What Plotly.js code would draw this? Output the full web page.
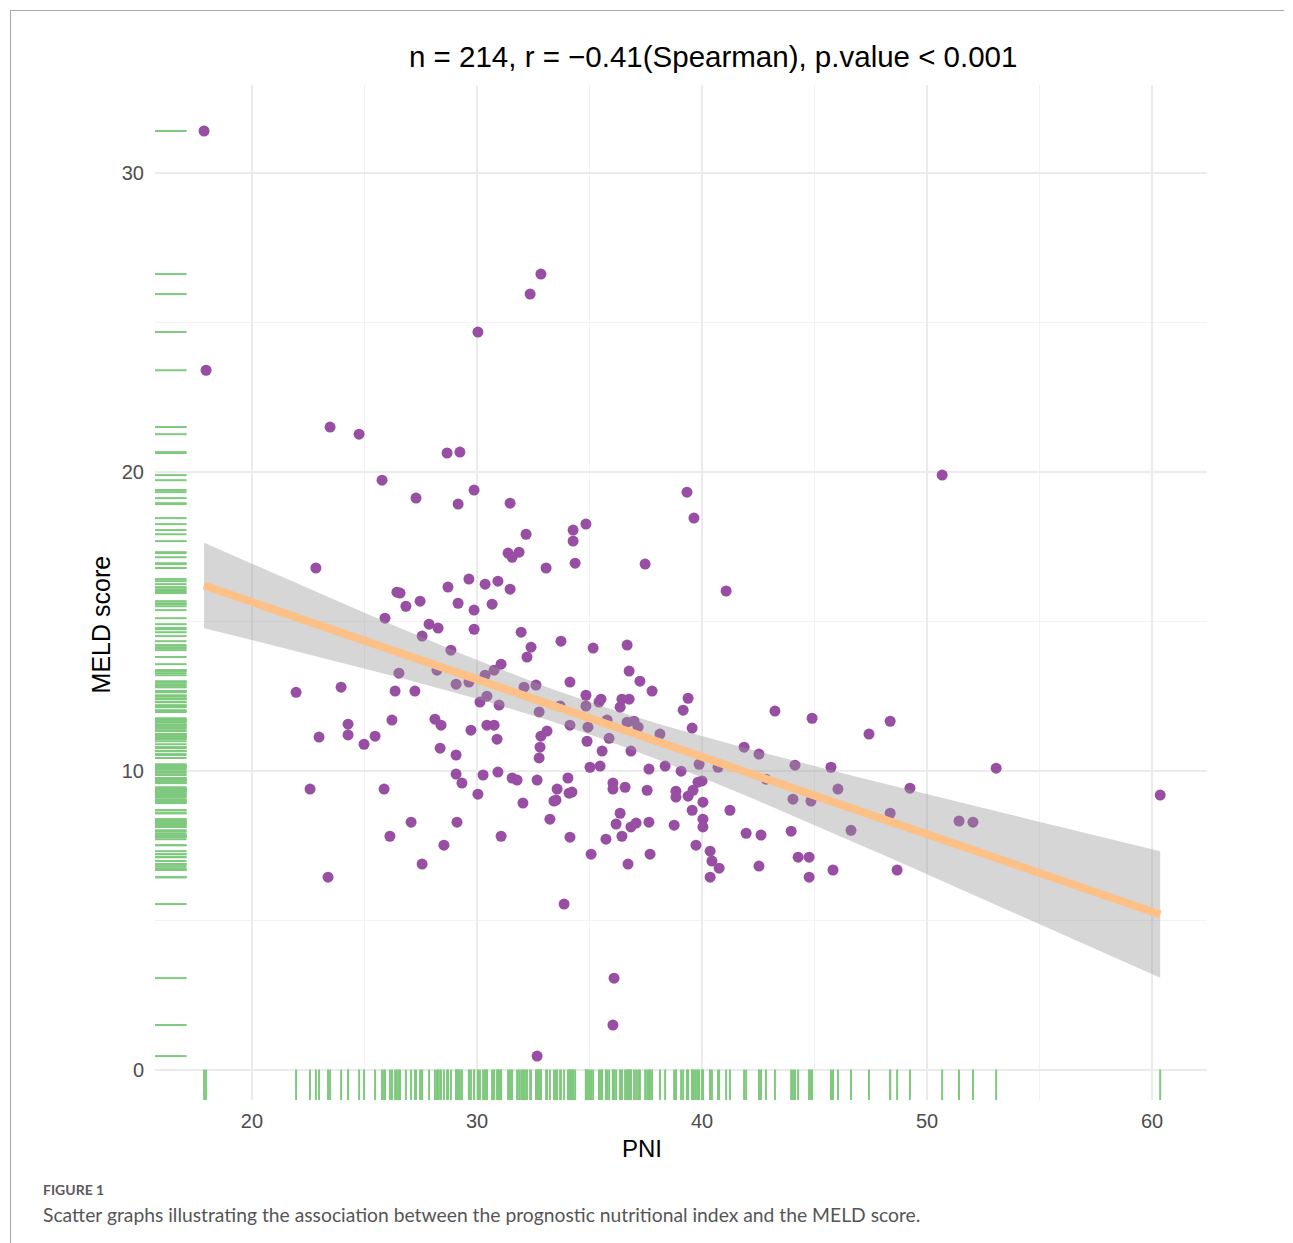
<!DOCTYPE html>
<html>
<head>
<meta charset="utf-8">
<script src="https://cdn.plot.ly/plotly-3.0.1.min.js"></script>
<style>
  html, body { margin: 0; padding: 0; background: #fff; }
  #frame { position: absolute; left: 10px; top: 10px; width: 1273px; height: 1233px;
           border-top: 1px solid #a8a8a8; border-left: 1px solid #a8a8a8; }
  #chart { position: absolute; left: 0; top: 0; width: 1293px; height: 1243px; }
</style>
</head>
<body>
<div id="frame"></div>
<div id="chart"></div>
<script>
// PNI (x) values
const pni = [17.87,17.96,23.47,24.76,28.67,29.24,25.78,27.29,29.16,29.87,
32.84,32.36,30.04,31.47,39.33,39.64,34.84,34.27,34.27,32.18,
31.38,31.87,31.56,34.36,33.07,37.47,22.84,26.44,26.58,26.84,
27.47,25.91,27.87,28.27,27.56,28.71,29.64,30.36,30.93,31.47,
29.16,29.87,30.67,29.87,31.96,32.40,32.22,28.84,28.22,26.53,
21.96,23.96,26.36,27.24,29.07,29.64,30.36,30.76,31.07,32.09,
30.44,30.13,30.98,24.27,26.22,28.13,28.40,29.73,30.44,30.76,
41.07,33.73,35.16,36.67,36.76,37.24,37.78,34.13,32.62,34.84,
34.84,35.51,35.42,36.44,36.76,36.36,39.38,39.16,39.56,32.76,
33.69,34.13,33.11,34.93,35.78,36.67,36.98,37.16,32.84,32.80,
32.76,34.89,35.87,35.56,36.84,38.13,41.87,42.53,35.02,35.47,
37.64,38.36,39.07,39.87,40.71,
32.67,34.04,33.56,34.09,34.22,33.51,33.42,32.04,33.24,
36.04,36.04,36.58,37.56,38.84,38.84,39.38,39.60,39.82,40.00,
40.04,39.56,41.24,36.36,36.18,36.84,37.07,37.64,38.76,40.04,
40.04,36.44,35.73,34.13,41.96,42.62,39.73,40.36,40.44,40.76,
40.36,42.53,35.07,36.71,37.69,33.87,
22.98,24.27,24.98,25.47,30.89,28.36,29.07,29.07,29.33,30.27,30.93,31.56,31.78,
30.04,22.58,25.87,27.07,29.11,26.13,31.07,28.53,27.56,23.38,
50.67,43.24,44.89,48.36,47.42,44.13,45.73,46.04,49.24,53.07,60.36,44.04,44.84,48.36,
46.62,51.42,52.04,43.96,44.27,44.76,44.76,45.82,48.67,42.84,36.09,36.04,32.67];

// MELD score (y) values, same order
const meld = [31.42,23.41,21.51,21.27,20.64,20.67,19.73,19.13,18.93,19.40,
26.63,25.96,24.69,18.96,19.33,18.46,18.26,18.06,17.69,17.92,
17.29,17.32,17.15,16.95,16.79,16.92,16.79,15.98,15.95,15.51,
15.68,15.11,14.91,14.78,14.51,16.15,16.42,16.25,16.35,16.08,
15.61,15.38,15.58,14.74,14.64,14.14,13.81,14.04,13.37,13.27,
12.63,12.80,12.67,12.67,12.90,12.97,13.20,13.37,13.57,12.80,
12.50,12.30,12.20,11.56,11.70,11.73,11.53,11.36,11.53,11.53,
16.02,14.34,14.11,14.21,13.34,13.00,12.67,12.97,12.87,12.53,
12.17,12.40,12.30,12.40,12.40,12.13,12.43,12.03,11.43,11.97,
12.17,11.53,11.33,11.46,11.70,11.63,11.66,11.46,11.16,10.79,
10.43,10.99,11.09,10.66,10.66,11.23,10.79,10.56,10.12,10.16,
10.06,10.16,9.99,10.22,10.12,
9.69,9.76,9.39,9.25,9.29,9.02,8.99,8.92,8.38,
9.59,9.39,9.45,9.35,9.32,9.12,9.15,9.35,9.62,9.66,
8.95,8.68,8.68,8.58,8.22,8.12,8.25,8.28,8.18,8.38,
8.12,7.81,7.71,7.78,7.91,7.85,7.51,7.31,6.98,6.74,
6.44,6.81,7.21,6.88,7.21,5.54,
11.13,11.20,10.89,11.16,11.06,10.76,10.53,9.89,9.59,9.86,9.96,9.76,9.69,
9.22,9.39,9.39,8.28,8.28,7.81,7.81,7.51,6.88,6.44,
19.90,12.00,11.76,11.66,11.23,10.19,10.12,9.39,9.42,10.09,9.19,9.05,8.99,8.58,
8.01,8.32,8.28,7.98,7.11,7.11,6.44,6.68,6.68,9.72,3.06,1.49,0.45];

const xTicks = [20, 30, 40, 50, 60];
const yTicks = [0, 10, 20, 30];
const titleText = "n = 214, r = \u22120.41(Spearman), p.value < 0.001";
const xTitle = "PNI";
const yTitle = "MELD score";
const figLabel = "FIGURE 1";
const caption = "Scatter graphs illustrating the association between the prognostic nutritional index and the MELD score.";

// linear fit with 95% confidence band (like geom_smooth(method = "lm"))
const n = Math.min(pni.length, meld.length);
let xbar = 0, ybar = 0;
for (let i = 0; i < n; i++) { xbar += pni[i]; ybar += meld[i]; }
xbar /= n; ybar /= n;
let sxx = 0, sxy = 0;
for (let i = 0; i < n; i++) { sxx += (pni[i]-xbar)**2; sxy += (pni[i]-xbar)*(meld[i]-ybar); }
const b = sxy / sxx, a = ybar - b * xbar;
let sse = 0;
for (let i = 0; i < n; i++) { sse += (meld[i] - a - b*pni[i])**2; }
const s = Math.sqrt(sse / (n - 2));
const tq = 1.971;
const xmin = Math.min(...pni), xmax = Math.max(...pni);
const fx = [], fy = [], lo = [], hi = [];
for (let k = 0; k <= 80; k++) {
  const x = xmin + (xmax - xmin) * k / 80;
  const y = a + b * x;
  const se = s * Math.sqrt(1/n + (x - xbar)**2 / sxx);
  fx.push(x); fy.push(y); lo.push(y - tq*se); hi.push(y + tq*se);
}

const points = {
  x: pni, y: meld, type: 'scatter', mode: 'markers',
  marker: { color: '#984EA3', size: 11, line: { width: 0 } },
  hoverinfo: 'x+y', showlegend: false
};
const band = {
  x: fx.concat(fx.slice().reverse()), y: hi.concat(lo.slice().reverse()),
  type: 'scatter', mode: 'lines', fill: 'toself',
  fillcolor: 'rgba(153,153,153,0.4)', line: { width: 0 }, hoverinfo: 'skip', showlegend: false
};
const fit = {
  x: fx, y: fy, type: 'scatter', mode: 'lines',
  line: { color: '#FDC086', width: 8 }, hoverinfo: 'skip', showlegend: false
};

// rug marks built from the data
const shapes = [];
const rugColor = '#7FC97F';
for (let i = 0; i < n; i++) {
  shapes.push({ type: 'line', xref: 'x', yref: 'paper', x0: pni[i], x1: pni[i], y0: 0, y1: 0.03,
    line: { color: rugColor, width: 2 }, layer: 'above' });
  shapes.push({ type: 'line', xref: 'paper', yref: 'y', x0: 0, x1: 0.03, y0: meld[i], y1: meld[i],
    line: { color: rugColor, width: 2 }, layer: 'above' });
}

const tickFont = { family: 'Liberation Sans, Arial, sans-serif', size: 20, color: '#4D4D4D' };
const layout = {
  width: 1293, height: 1243,
  margin: { l: 155, r: 86, t: 85, b: 143 },
  paper_bgcolor: 'rgba(0,0,0,0)', plot_bgcolor: 'rgba(0,0,0,0)',
  showlegend: false,
  xaxis: {
    range: [15.69, 62.44], tickvals: xTicks, ticktext: xTicks.map(String),
    showgrid: true, gridcolor: '#EBEBEB', gridwidth: 2, zeroline: false, showline: false,
    ticks: '', tickfont: tickFont, ticklabelstandoff: 7,
    minor: { tick0: 15, dtick: 10, showgrid: true, gridcolor: '#F2F2F2', gridwidth: 1 }
  },
  yaxis: {
    range: [-1.02, 32.96], tickvals: yTicks, ticktext: yTicks.map(String),
    showgrid: true, gridcolor: '#EBEBEB', gridwidth: 2, zeroline: false, showline: false,
    ticks: '', tickfont: tickFont, ticklabelstandoff: 10,
    minor: { tick0: 5, dtick: 10, showgrid: true, gridcolor: '#F2F2F2', gridwidth: 1 }
  },
  shapes: shapes,
  annotations: [
    { text: titleText, xref: 'paper', yref: 'paper', x: 0.5304, y: 1.0276, xanchor: 'center', yanchor: 'middle',
      showarrow: false, font: { family: 'Liberation Sans, Arial, sans-serif', size: 29.5, color: '#000' } },
    { text: yTitle, xref: 'paper', yref: 'paper', x: -0.0509, y: 0.469, xanchor: 'center', yanchor: 'middle',
      textangle: -90, showarrow: false, font: { family: 'Liberation Sans, Arial, sans-serif', size: 25, color: '#000' } },
    { text: xTitle, xref: 'paper', yref: 'paper', x: 0.4629, y: -0.0473, xanchor: 'center', yanchor: 'middle',
      showarrow: false, font: { family: 'Liberation Sans, Arial, sans-serif', size: 24, color: '#000' } },
    { text: '<b>' + figLabel + '</b>', xref: 'paper', yref: 'paper', x: -0.1084, y: -0.0877, xanchor: 'left', yanchor: 'middle',
      showarrow: false, font: { family: 'Lato, Noto Sans, sans-serif', size: 14, color: '#5a5a5a' } },
    { text: caption, xref: 'paper', yref: 'paper', x: -0.1084, y: -0.1133, xanchor: 'left', yanchor: 'middle',
      showarrow: false, font: { family: 'Lato, Noto Sans, sans-serif', size: 19.3, color: '#555' } }
  ]
};

Plotly.newPlot('chart', [points, band, fit], layout, { staticPlot: true, displayModeBar: false });
</script>
</body>
</html>
